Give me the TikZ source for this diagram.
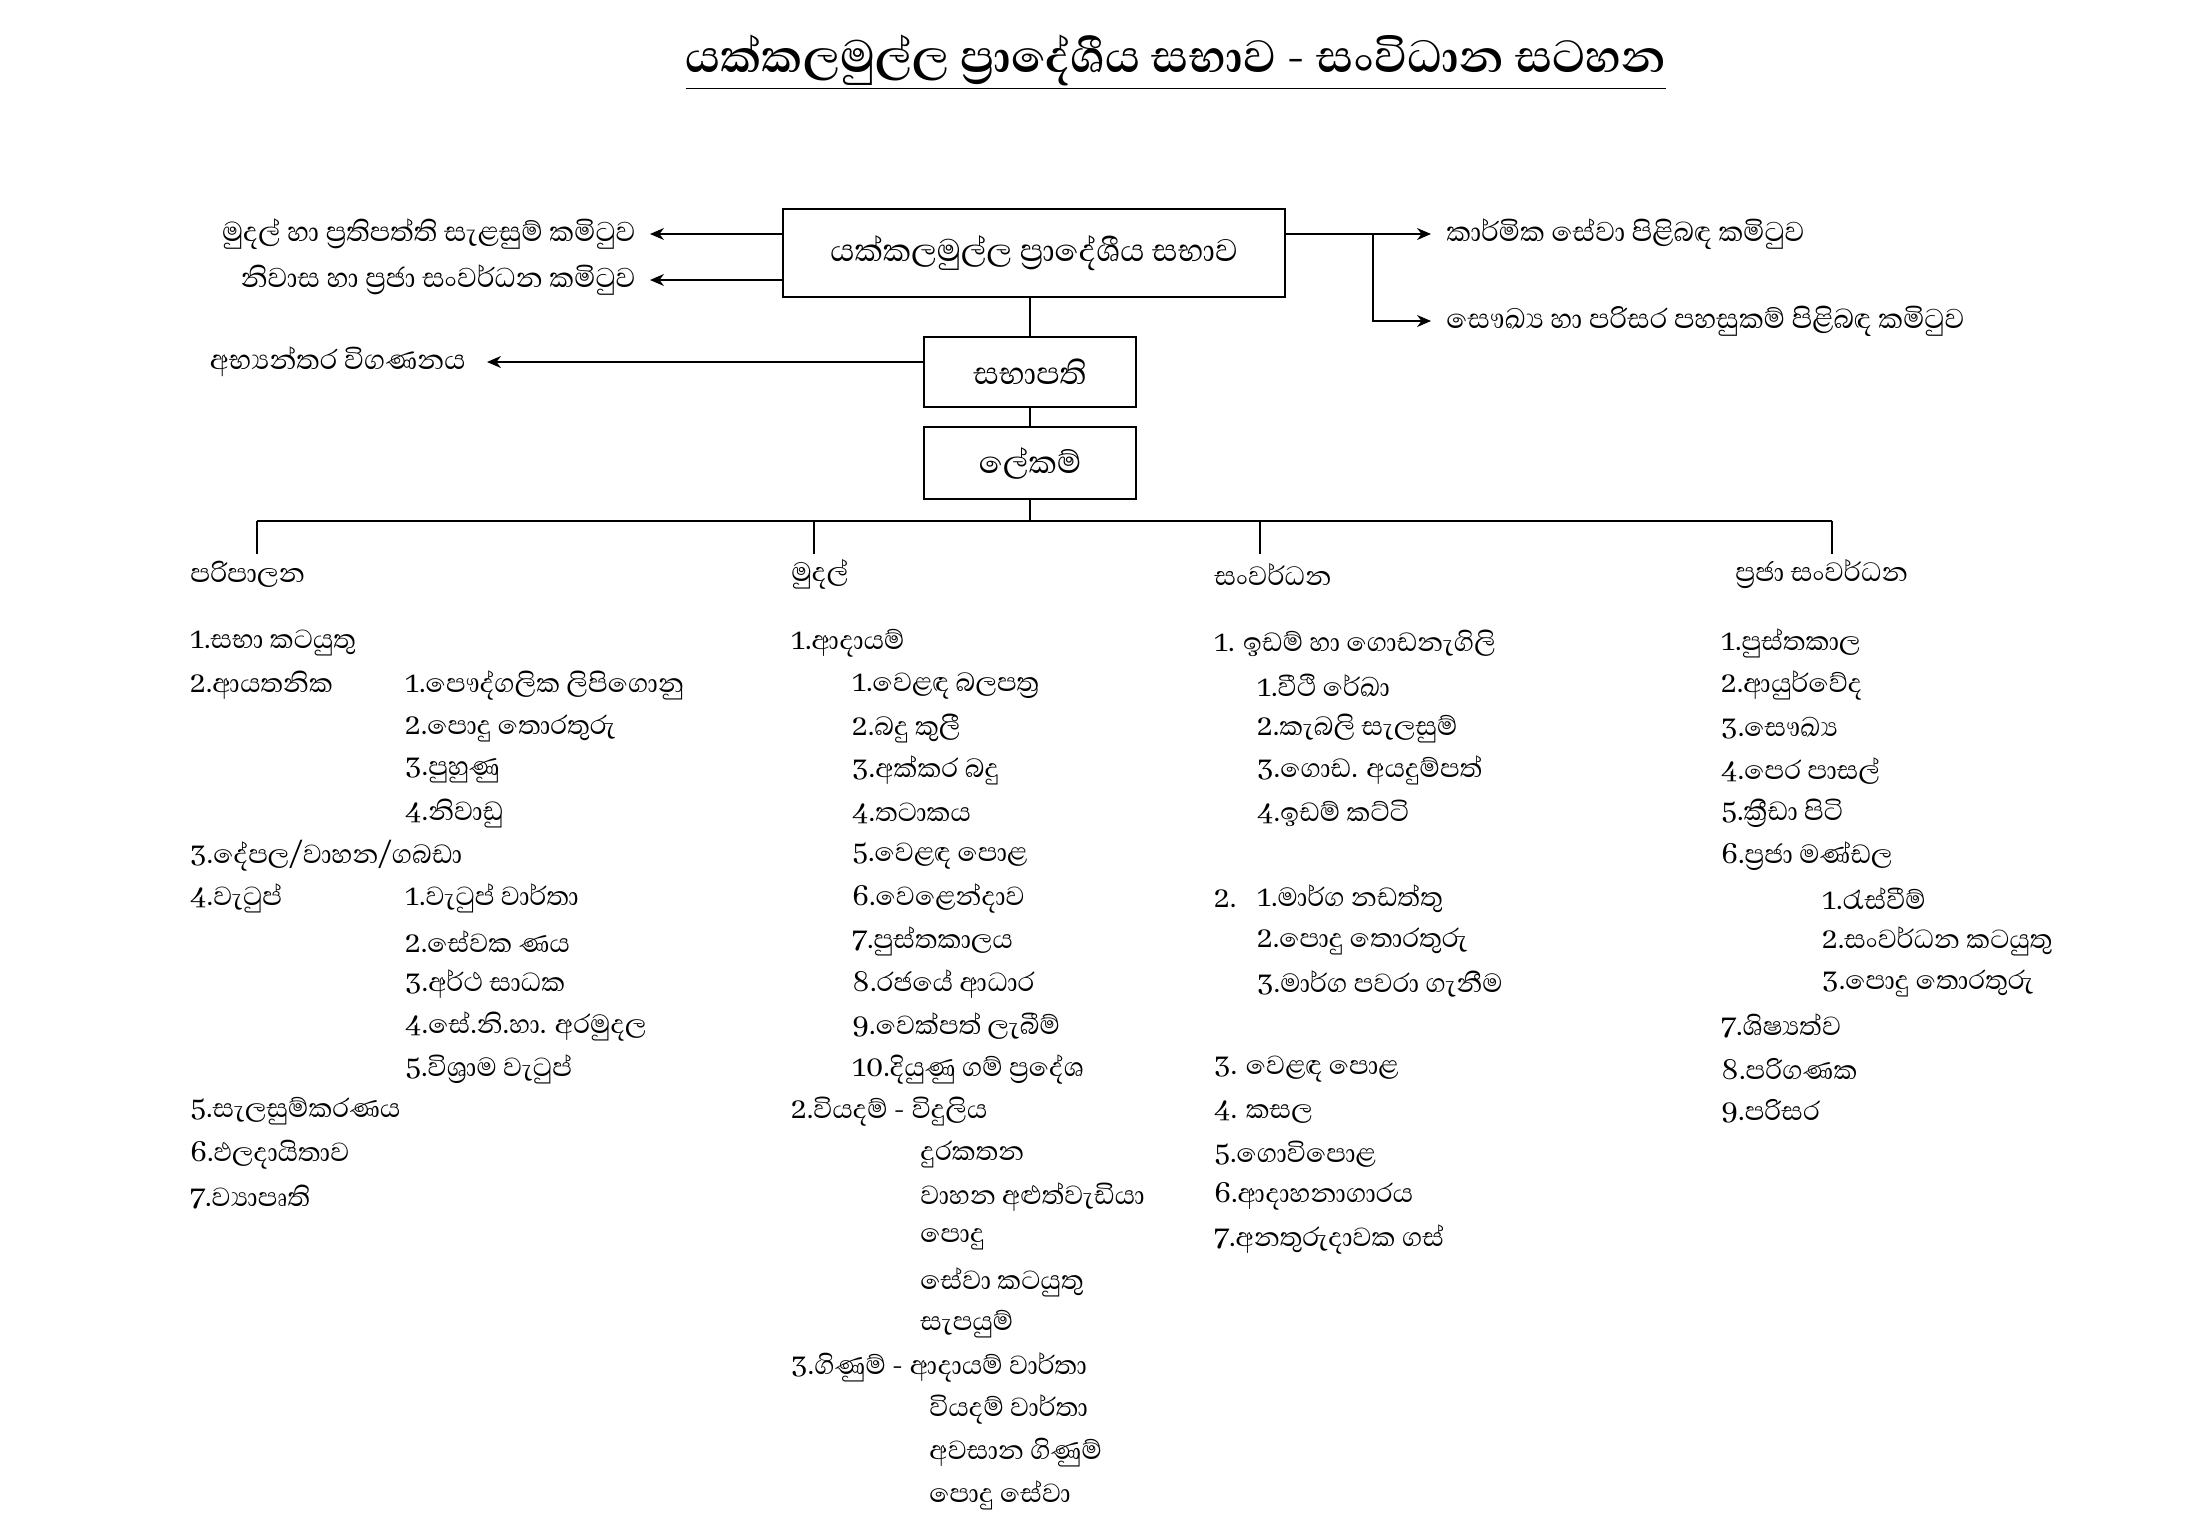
\documentclass[tikz,border=0pt]{standalone}
\usepackage{fontspec}
\setmainfont[Script=Sinhala]{Abhaya Libre}
\usetikzlibrary{arrows.meta}
\newcommand\li[4]{\node[item] (#1) at (#2,{643+42.6*#3}) {#4};}
\begin{document}
\begin{tikzpicture}[x=0.5pt,y=-0.5pt,
  item/.style={anchor=west,inner sep=0pt,font=\fontsize{16.8}{18}\selectfont},
  side/.style={inner sep=0pt,font=\fontsize{17.5}{19}\selectfont},
  hdr/.style={anchor=west,inner sep=0pt,font=\fontsize{17}{19}\selectfont},
  boxn/.style={draw,line width=0.8pt,inner sep=0pt,font=\fontsize{20}{22}\selectfont},
  ln/.style={line width=0.8pt},
  arr/.style={line width=0.8pt,-{Stealth[length=7pt,width=6pt]}}]
\useasboundingbox (0,0) rectangle (2200,1526);
\node[inner sep=0pt,font=\fontsize{29}{32}\selectfont\bfseries] (title) at (1176,62) {\underline{යක්කලමුල්ල ප්‍රාදේශීය සභාව - සංවිධාන සටහන}};
\node[boxn,minimum width=251pt,minimum height=44pt] (main) at (1034,253) {යක්කලමුල්ල ප්‍රාදේශීය සභාව};
\node[boxn,minimum width=106pt,minimum height=35pt] (sab) at (1030,372) {සභාපති};
\node[boxn,minimum width=106pt,minimum height=36pt] (lek) at (1030,463) {ලේකම්};
\draw[ln] (main.south -| sab.north) -- (sab.north);
\draw[ln] (sab) -- (lek);
% left
\node[side,anchor=east] (l1) at (636,234) {මුදල් හා ප්‍රතිපත්ති සැළසුම් කමිටුව};
\node[side,anchor=east] (l2) at (636,280) {නිවාස හා ප්‍රජා සංවර්ධන කමිටුව};
\node[side,anchor=east] (l3) at (466,362) {අභ්‍යන්තර විගණනය};
\coordinate (a1) at (650,234); \coordinate (a2) at (650,280); \coordinate (a3) at (487,362);
\draw[arr] (main.west |- a1) -- (a1);
\draw[arr] (main.west |- a2) -- (a2);
\draw[arr] (sab.west |- a3) -- (a3);
% right
\node[side,anchor=west] (r1) at (1446,234) {කාර්මික සේවා පිළිබඳ කමිටුව};
\node[side,anchor=west] (r2) at (1446,321) {සෞඛ්‍ය හා පරිසර පහසුකම් පිළිබඳ කමිටුව};
\coordinate (b1) at (1431,234); \coordinate (b2) at (1431,321); \coordinate (j) at (1373,234);
\draw[arr] (main.east |- b1) -- (b1);
\draw[arr] (j) -- (j |- b2) -- (b2);
% tree
\coordinate (h0) at (1030,521);
\coordinate (h1) at (257,521); \coordinate (h2) at (814,521); \coordinate (h3) at (1260,521); \coordinate (h4) at (1832,521);
\draw[ln] (lek) -- (h0);
\draw[ln] (h1) -- (h4);
\foreach \h in {h1,h2,h3,h4} \draw[ln] (\h) -- ++(0,33);
\node[hdr] (c1) at (190,574) {පරිපාලන};
\node[hdr] (c2) at (791,574) {මුදල්};
\node[hdr] (c3) at (1214,574) {සංවර්ධන};
\node[hdr] (c4) at (1735,574) {ප්‍රජා සංවර්ධන};
% column 1
\li{a0}{190}{0}{1.සභා කටයුතු}
\li{a1}{190}{1}{2.ආයතනික}
\li{a1a}{405}{1}{1.පෞද්ගලික ලිපිගොනු}
\li{a1b}{405}{2}{2.පොදු තොරතුරු}
\li{a1c}{405}{3}{3.පුහුණු}
\li{a1d}{405}{4}{4.නිවාඩු}
\li{a2}{190}{5}{3.දේපල/වාහන/ගබඩා}
\li{a3}{190}{6}{4.වැටුප්}
\li{a3a}{405}{6}{1.වැටුප් වාර්තා}
\li{a3b}{405}{7}{2.සේවක ණය}
\li{a3c}{405}{8}{3.අර්ථ සාධක}
\li{a3d}{405}{9}{4.සේ.නි.හා. අරමුදල}
\li{a3e}{405}{10}{5.විශ්‍රාම වැටුප්}
\li{a4}{190}{11}{5.සැලසුම්කරණය}
\li{a5}{190}{12}{6.ඵලදායිතාව}
\li{a6}{190}{13}{7.ව්‍යාපෘති}
% column 2
\li{b0}{791}{0}{1.ආදායම්}
\li{b01}{852}{1}{1.වෙළඳ බලපත්‍ර}
\li{b02}{852}{2}{2.බදු කුලී}
\li{b03}{852}{3}{3.අක්කර බදු}
\li{b04}{852}{4}{4.තටාකය}
\li{b05}{852}{5}{5.වෙළඳ පොළ}
\li{b06}{852}{6}{6.වෙළෙන්දාව}
\li{b07}{852}{7}{7.පුස්තකාලය}
\li{b08}{852}{8}{8.රජයේ ආධාර}
\li{b09}{852}{9}{9.වෙක්පත් ලැබීම්}
\li{b10}{852}{10}{10.දියුණු ගම් ප්‍රදේශ}
\li{b1}{791}{11}{2.වියදම් - විදුලිය}
\li{b11}{920}{12}{දුරකතන}
\li{b12}{920}{13}{වාහන අළුත්වැඩියා}
\li{b13}{920}{14}{පොදු}
\li{b14}{920}{15}{සේවා කටයුතු}
\li{b15}{920}{16}{සැපයුම්}
\li{b2}{791}{17}{3.ගිණුම් - ආදායම් වාර්තා}
\li{b21}{929}{18}{වියදම් වාර්තා}
\li{b22}{929}{19}{අවසාන ගිණුම්}
\li{b23}{929}{20}{පොදු සේවා}
% column 3
\li{d0}{1214}{0}{1. ඉඩම් හා  ගොඩනැගිලි}
\li{d01}{1257}{1}{1.වීථි රේඛා}
\li{d02}{1257}{2}{2.කැබලි  සැලසුම්}
\li{d03}{1257}{3}{3.ගොඩ. අයදුම්පත්}
\li{d04}{1257}{4}{4.ඉඩම් කට්ටි}
\li{d1}{1214}{6}{2.}
\li{d11}{1257}{6}{1.මාර්ග නඩත්තු}
\li{d12}{1257}{7}{2.පොදු තොරතුරු}
\li{d13}{1257}{8}{3.මාර්ග පවරා ගැනීම}
\li{d2}{1214}{10}{3. වෙළඳ පොළ}
\li{d3}{1214}{11}{4. කසල}
\li{d4}{1214}{12}{5.ගොවිපොළ}
\li{d5}{1214}{13}{6.ආදාහනාගාරය}
\li{d6}{1214}{14}{7.අනතුරුදාවක ගස්}
% column 4
\li{e0}{1721}{0}{1.පුස්තකාල}
\li{e1}{1721}{1}{2.ආයුර්වේද}
\li{e2}{1721}{2}{3.සෞඛ්‍ය}
\li{e3}{1721}{3}{4.පෙර පාසල්}
\li{e4}{1721}{4}{5.ක්‍රීඩා පිටි}
\li{e5}{1721}{5}{6.ප්‍රජා මණ්ඩල}
\li{e51}{1822}{6}{1.රැස්වීම්}
\li{e52}{1822}{7}{2.සංවර්ධන කටයුතු}
\li{e53}{1822}{8}{3.පොදු තොරතුරු}
\li{e6}{1721}{9}{7.ශිෂ්‍යත්ව}
\li{e7}{1721}{10}{8.පරිගණක}
\li{e8}{1721}{11}{9.පරිසර}
\end{tikzpicture}
\end{document}
